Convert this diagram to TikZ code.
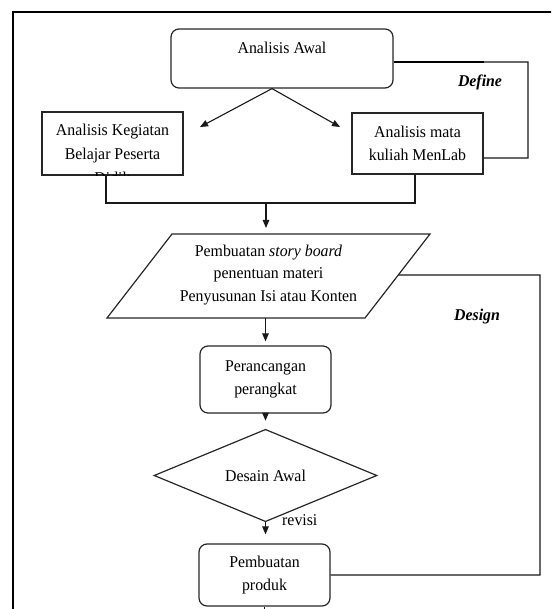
\documentclass[tikz,border=0pt]{standalone}
\usepackage{fontspec}
\setmainfont{Liberation Serif}[FakeStretch=0.96]
\usetikzlibrary{shapes.geometric,arrows.meta,calc}
\newcommand\dtxt{\fontsize{16.5}{22.4}\selectfont}
\begin{document}
\begin{tikzpicture}[x=1pt,y=-1pt,
  box/.style={draw=black!85, line width=1.2pt, inner sep=0pt, align=center, font=\dtxt},
  rbox/.style={box, rounded corners=8pt},
  shapeline/.style={draw=black!85, line width=1.2pt, line join=miter},
  conn/.style={line width=1.1pt, draw=black!90},
  arr/.style={conn, -{Triangle[length=8pt,width=6.5pt]}},
  lbl/.style={font=\dtxt\bfseries\itshape, inner sep=0pt}
]
\useasboundingbox (0,0) rectangle (551,609);
\clip (0,0) rectangle (551,609);

% outer frame
\draw[line width=2.2pt] (13,615) -- (13,12) -- (556,12);

% Define part
\node[rbox, minimum width=222pt, minimum height=59pt] (awal) at (282,58.5) {Analisis Awal\\\phantom{A}};
\node[box, minimum width=141pt, minimum height=63pt] (keg) at (112.5,143.5) {};
\begin{scope}
  \clip (keg.south west) rectangle (keg.north east);
  \node[align=center, font=\fontsize{16.5}{24}\selectfont, inner sep=0pt, anchor=north] (kegtxt) at (112.5,124) {Analisis Kegiatan\\Belajar Peserta\\Didik};
\end{scope}
\node[box, minimum width=131pt, minimum height=61pt] (mata) at (417.5,143.5) {Analisis mata\\kuliah MenLab};

\coordinate (split) at ($(awal.south)+(-10,0)$);
\coordinate (tl) at (200,127);
\coordinate (tr) at (340,127);
\draw[arr] (split) -- (tl);
\draw[arr] (split) -- (tr);

\coordinate (fS) at ($(awal.north east)!0.56!(awal.south east)$);
\coordinate (fA) at (528,62);
\coordinate (fB) at (528,158);
\draw[conn] (fS) -- (fA) -- (fB) -- (fB -| mata.east);
\draw[line width=2.2pt] (fS) -- (fS -| mata.east);
\node[lbl] (def) at (480,82) {Define};

% join
\coordinate (jl) at (106,203);
\coordinate (jr) at (415,203);
\coordinate (jm) at (266,203);
\draw[conn] (keg.south -| jl) -- (jl) -- (jr) -- (mata.south -| jr);

% Design part
\coordinate (s1) at (172,234);
\coordinate (s2) at (430,234);
\coordinate (s3) at (365,318);
\coordinate (s4) at (107,318);
\draw[shapeline] (s1) -- (s2) -- (s3) -- (s4) -- cycle;
\node[align=center, font=\dtxt, inner sep=0pt] (story) at (268.5,275) {Pembuatan \textit{story board}\\penentuan materi\\Penyusunan Isi atau Konten};
\draw[arr, shorten >=6pt] (jm) -- (jm |- s1);

\node[rbox, minimum width=131pt, minimum height=67pt] (per) at (265.5,379.5) {Perancangan\\perangkat};
\draw[arr, shorten >=4pt] (per.north |- s4) -- (per.north);

\node[box, diamond, minimum width=223pt, minimum height=65pt] (dia) at (265.5,475.5) {Desain Awal};
\draw[arr, shorten >=8pt] (per.south) -- (dia.north);

\node[rbox, minimum width=131pt, minimum height=62pt] (prod) at (264.5,575) {Pembuatan\\produk};
\draw[arr, shorten >=9pt] (dia.south) -- (dia.south |- prod.north);
\node[font=\dtxt, inner sep=0pt, anchor=west] (rev) at (282,520) {revisi};

\coordinate (bot) at ($(prod.south)+(0,12)$);
\draw[conn] (prod.south) -- (bot);

\coordinate (sr) at ($(s2)!{41/84}!(s3)$);
\coordinate (dA) at (540,275);
\coordinate (dB) at (540,575);
\draw[conn] (sr) -- (dA) -- (dB) -- (prod.east);
\node[lbl] (des) at (477,317) {Design};
\end{tikzpicture}
\end{document}
